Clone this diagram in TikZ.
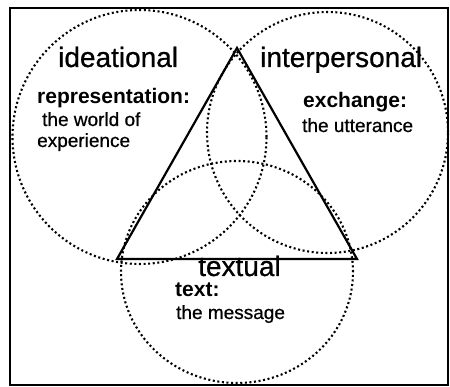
\documentclass[tikz,border=0pt]{standalone}
\usepackage{fontspec}
\setmainfont{Liberation Sans}
\newfontfamily\heavyfont{Liberation Sans}[FakeBold=0.7]

\tikzset{
  ring/.style={line width=2.1pt, dash pattern=on 2pt off 2.6pt},
  head/.style={inner sep=0pt, anchor=base west, font=\heavyfont\fontsize{28}{30}\selectfont},
  key/.style={inner sep=0pt, anchor=base west, font=\fontsize{21}{23}\selectfont\bfseries},
  gloss/.style={inner sep=0pt, anchor=base west, font=\heavyfont\fontsize{19}{21}\selectfont},
}

\begin{document}
\begin{tikzpicture}[x=1pt,y=-1pt]
  \useasboundingbox (0,0) rectangle (450,387);
  \draw[line width=1.4pt] (10,8) rectangle (448,385);

  % the three circles
  \draw[ring] (139.5,137) circle (127pt);
  \draw[ring] (327.5,132.5) circle (120.5pt);
  \draw[ring] (237,272) ellipse (116pt and 111pt);

  % triangle
  \coordinate (apex) at (237,48);
  \coordinate (left) at (117,259);
  \coordinate (right) at (357,259);
  \draw[line width=2.2pt] (apex) -- (left) -- (right) -- cycle;

  \node[head] (ideational) at (58,67) {ideational};
  \node[key] (repr) at (37,104) {representation:};
  \node[gloss] (world) at (42,126) {the world of};
  \node[gloss] (exper) at (37,147) {experience};

  \node[head] (interpersonal) at (260,67) {interpersonal};
  \node[key] (exch) at (303,108) {exchange:};
  \node[gloss] (utter) at (302,132) {the utterance};

  \node[head] (textual) at (198,276) {textual};
  \node[key] (txt) at (175,297) {text:};
  \node[gloss] (msg) at (176,319) {the message};
\end{tikzpicture}
\end{document}
